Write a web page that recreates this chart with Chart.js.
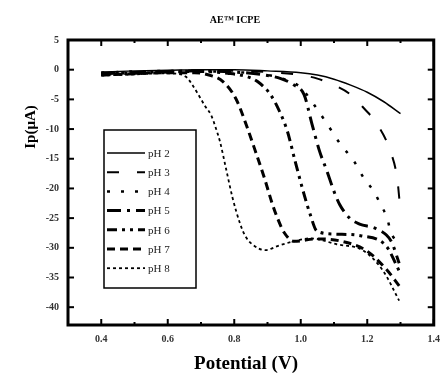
<!DOCTYPE html>
<html>
<head>
<meta charset="utf-8">
<script src="https://cdn.jsdelivr.net/npm/chart.js@4"></script>
<style>
  html, body { margin: 0; padding: 0; background: #fff; }
  #wrap { width: 448px; height: 379px; }
</style>
</head>
<body>
<div id="wrap"><canvas id="chart"></canvas></div>
<script>
// =========================
// DATA
// =========================
const xTicks = [0.4, 0.6, 0.8, 1.0, 1.2, 1.4]
const xMinor = [0.5, 0.7, 0.9, 1.1, 1.3]
const yTicks = [5, 0, -5, -10, -15, -20, -25, -30, -35, -40]

const labels = ["pH 2", "pH 3", "pH 4", "pH 5", "pH 6", "pH 7", "pH 8"]

const v_pH2 = [0.40, 0.50, 0.60, 0.70, 0.80, 0.90, 1.00, 1.05, 1.10, 1.15, 1.20, 1.25, 1.30]
const i_pH2 = [-0.4, -0.2, -0.1, 0.0, 0.0, -0.2, -0.5, -0.9, -1.6, -2.6, -3.8, -5.4, -7.4]

const v_pH3 = [0.40, 0.50, 0.60, 0.70, 0.80, 0.90, 1.00, 1.05, 1.10, 1.15, 1.19, 1.23, 1.27, 1.29, 1.30]
const i_pH3 = [-0.6, -0.4, -0.2, -0.1, -0.2, -0.4, -0.9, -1.5, -2.6, -4.2, -6.5, -9.2, -13.8, -18.3, -23.8]

const v_pH4 = [0.40, 0.50, 0.60, 0.70, 0.80, 0.90, 0.95, 1.00, 1.04, 1.08, 1.12, 1.16, 1.19, 1.22, 1.24, 1.26, 1.27, 1.30]
const i_pH4 = [-0.5, -0.3, -0.2, -0.3, -0.4, -0.9, -1.6, -3.0, -5.9, -9.2, -12.6, -15.4, -18.3, -20.5, -22.7, -25.0, -27.2, -29.7]

const v_pH5 = [0.40, 0.50, 0.60, 0.70, 0.80, 0.88, 0.94, 0.98, 1.01, 1.034, 1.057, 1.079, 1.10, 1.117, 1.147, 1.177, 1.227, 1.272, 1.296]
const i_pH5 = [-0.7, -0.5, -0.3, -0.2, -0.4, -0.8, -1.5, -2.6, -4.2, -9.2, -13.8, -17.1, -20.5, -22.7, -25.0, -26.0, -26.8, -28.9, -32.6]

const v_pH6 = [0.40, 0.50, 0.60, 0.70, 0.78, 0.84, 0.87, 0.909, 0.936, 0.96, 0.983, 1.01, 1.028, 1.049, 1.108, 1.183, 1.257, 1.296]
const i_pH6 = [-0.8, -0.6, -0.4, -0.3, -0.6, -1.2, -2.0, -4.2, -7.0, -10.4, -15.4, -21.0, -24.3, -27.2, -27.7, -28.0, -29.7, -33.9]

const v_pH7 = [0.40, 0.50, 0.60, 0.68, 0.73, 0.766, 0.805, 0.84, 0.864, 0.891, 0.915, 0.93, 0.951, 0.98, 1.049, 1.123, 1.198, 1.257, 1.296]
const i_pH7 = [-0.9, -0.7, -0.5, -0.5, -1.0, -2.0, -4.9, -9.9, -13.8, -18.3, -22.7, -25.0, -27.5, -28.9, -28.5, -28.9, -30.5, -33.6, -36.4]

const v_pH8 = [0.40, 0.50, 0.58, 0.63, 0.655, 0.671, 0.692, 0.713, 0.730, 0.745, 0.757, 0.775, 0.795, 0.818, 0.833, 0.854, 0.894, 0.93, 0.98, 1.028, 1.108, 1.189, 1.248, 1.296]
const i_pH8 = [-1.0, -0.8, -0.6, -0.7, -1.2, -2.3, -4.2, -6.2, -7.6, -9.9, -12.1, -16.6, -21.6, -26.0, -28.0, -29.4, -30.4, -29.7, -28.9, -28.4, -29.4, -30.5, -33.9, -38.9]

const series = [
    [v_pH2, i_pH2], [v_pH3, i_pH3], [v_pH4, i_pH4], [v_pH5, i_pH5],
    [v_pH6, i_pH6], [v_pH7, i_pH7], [v_pH8, i_pH8]
]

// line styles per pH (as in the legend)
const dashes = [[], [12, 18], [3, 11], [14, 6, 3, 6], [10, 5, 3, 5, 3, 5], [8, 5], [3, 3]]
const widths = [1.5, 2, 2.5, 3, 3, 3, 1.8]

const SERIF = "'Liberation Serif', 'DejaVu Serif', serif"

// =========================
// PLUGINS
// =========================
const framePlugin = {
    id: "frame",
    afterDatasetsDraw(chart) {
        const { ctx, chartArea: a, scales } = chart
        ctx.save()
        ctx.strokeStyle = "#000"

        // inward ticks
        ctx.lineWidth = 2
        const tick = (x1, y1, x2, y2) => {
            ctx.beginPath(); ctx.moveTo(x1, y1); ctx.lineTo(x2, y2); ctx.stroke()
        }
        xTicks.forEach(v => {
            const x = scales.x.getPixelForValue(v)
            tick(x, a.bottom, x, a.bottom - 6)
            tick(x, a.top, x, a.top + 6)
        })
        xMinor.forEach(v => {
            const x = scales.x.getPixelForValue(v)
            tick(x, a.bottom, x, a.bottom - 3)
            tick(x, a.top, x, a.top + 3)
        })
        yTicks.forEach(v => {
            const y = scales.y.getPixelForValue(v)
            tick(a.left, y, a.left + 6, y)
            tick(a.right, y, a.right - 6, y)
        })

        // box
        ctx.lineWidth = 3
        ctx.strokeRect(a.left, a.top, a.right - a.left, a.bottom - a.top)

        // legend box
        const lx = 104, ly = 130, lw = 92, lh = 158
        ctx.lineWidth = 1.5
        ctx.fillStyle = "#fff"
        ctx.fillRect(lx, ly, lw, lh)
        ctx.strokeRect(lx, ly, lw, lh)
        ctx.font = "11px " + SERIF
        ctx.textBaseline = "middle"
        chart.data.datasets.forEach((ds, k) => {
            const y = 153 + k * 19.2
            ctx.save()
            ctx.lineWidth = ds.borderWidth
            ctx.setLineDash(ds.borderDash)
            ctx.beginPath(); ctx.moveTo(107, y); ctx.lineTo(145, y); ctx.stroke()
            ctx.restore()
            ctx.fillStyle = "#222"
            ctx.fillText(ds.label, 148, y + 1)
        })

        // titles
        ctx.fillStyle = "#000"
        ctx.textAlign = "center"
        ctx.font = "bold 10px " + SERIF
        ctx.fillText("AE\u2122 ICPE", 235, 20)

        ctx.font = "bold 19px " + SERIF
        ctx.fillText("Potential (V)", 246, 364)

        ctx.translate(31, 127)
        ctx.rotate(-Math.PI / 2)
        ctx.font = "bold 15px " + SERIF
        ctx.fillText("Ip(\u03bcA)", 0, 0)
        ctx.restore()
    }
}

// =========================
// CHART
// =========================
const datasets = series.map(([v, i], k) => ({
    label: labels[k],
    data: v.map((x, n) => ({ x: x, y: i[n] })),
    borderColor: "#000",
    backgroundColor: "#000",
    borderWidth: widths[k],
    borderDash: dashes[k],
    pointRadius: 0,
    cubicInterpolationMode: "monotone",
    fill: false
}))

new Chart(document.getElementById("chart"), {
    type: "line",
    data: { datasets },
    options: {
        responsive: true,
        maintainAspectRatio: false,
        animation: false,
        layout: { padding: { top: 40, right: 10, left: 0, bottom: 0 } },
        plugins: {
            legend: { display: false },
            title: { display: false },
            tooltip: { enabled: false }
        },
        scales: {
            x: {
                type: "linear",
                min: 0.3,
                max: 1.4,
                afterBuildTicks: s => { s.ticks = xTicks.map(v => ({ value: v })) },
                afterFit: s => { s.height = 54 },
                grid: { display: false, drawTicks: false },
                border: { display: false },
                ticks: {
                    padding: 8,
                    color: "#333",
                    font: { family: SERIF, size: 10, weight: "bold" },
                    callback: v => v.toFixed(1)
                }
            },
            y: {
                type: "linear",
                min: -43,
                max: 5,
                afterBuildTicks: s => { s.ticks = yTicks.map(v => ({ value: v })) },
                afterFit: s => { s.width = 68 },
                grid: { display: false, drawTicks: false },
                border: { display: false },
                ticks: {
                    padding: 9,
                    color: "#333",
                    font: { family: SERIF, size: 10, weight: "bold" }
                }
            }
        }
    },
    plugins: [framePlugin]
})
</script>
</body>
</html>
